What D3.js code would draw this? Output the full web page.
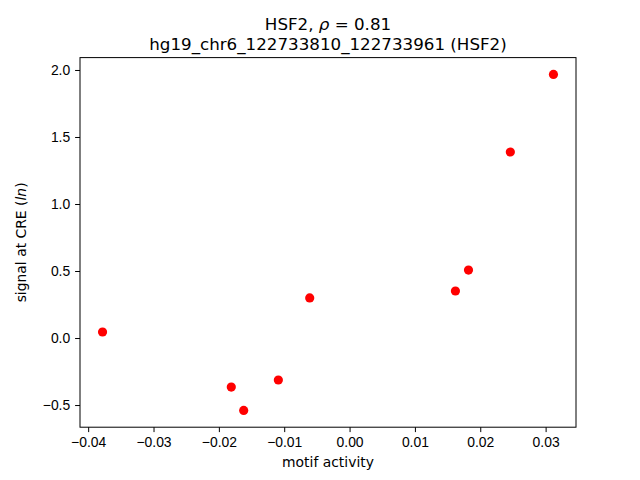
<!DOCTYPE html>
<html lang="en">
<head>
<meta charset="UTF-8">
<title>HSF2</title>
<script src="https://cdn.jsdelivr.net/npm/d3@7"></script>
<style>
	body { margin: 0; background: #fff; }
	svg { font-family: "DejaVu Sans", sans-serif; }
	.axis path, .axis line { stroke: #000; stroke-width: 1px; }
	.axis text { font-size: 13.9px; fill: #000; }
	.title { font-size: 16.7px; fill: #000; }
	.label { font-size: 13.9px; fill: #000; }
</style>
</head>
<body>
<script>

var motifActivity = [-0.0378, -0.0181, -0.0162, -0.0109, -0.0061, 0.0162, 0.0182, 0.0246, 0.0312];
var signalCRE = [0.045, -0.366, -0.540, -0.313, 0.299, 0.351, 0.507, 1.388, 1.967];
var xTicks = [-0.04, -0.03, -0.02, -0.01, 0.00, 0.01, 0.02, 0.03];
var yTicks = [-0.5, 0.0, 0.5, 1.0, 1.5, 2.0];

var W = 640, H = 480;
var margin = {top: 57.6, right: 64, bottom: 52.8, left: 80};
var width = W - margin.left - margin.right,
		height = H - margin.top - margin.bottom;

var svg = d3.select('body').append('svg')
	.attr('width', W)
	.attr('height', H);

var g = svg.append('g')
	.attr('transform', 'translate(' + margin.left + ',' + margin.top + ')');

// matplotlib style 5% margins
function padded(vals) {
	var ext = d3.extent(vals);
	var m = (ext[1] - ext[0]) * 0.05;
	return [ext[0] - m, ext[1] + m];
}

var x = d3.scaleLinear().domain(padded(motifActivity)).range([0, width]);
var y = d3.scaleLinear().domain(padded(signalCRE)).range([height, 0]);

g.append('g')
	.attr('class', 'axis')
	.attr('transform', 'translate(0,' + height + ')')
	.call(d3.axisBottom(x).tickValues(xTicks).tickSize(4.9).tickPadding(4.9)
		.tickFormat(function(d) { return d3.format('.2f')(d).replace('-', '\u2212'); }))
	.call(function(a) { a.select('.domain').remove(); });

g.append('g')
	.attr('class', 'axis')
	.call(d3.axisLeft(y).tickValues(yTicks).tickSize(4.9).tickPadding(4.9)
		.tickFormat(function(d) { return d3.format('.1f')(d).replace('-', '\u2212'); }))
	.call(function(a) { a.select('.domain').remove(); });

g.append('rect')
	.attr('width', width)
	.attr('height', height)
	.attr('fill', 'none')
	.attr('stroke', '#000')
	.attr('stroke-width', 1);

g.selectAll('.dot')
	.data(motifActivity)
	.enter()
	.append('circle')
	.attr('class', 'dot')
	.attr('cx', function(d) { return x(d); })
	.attr('cy', function(d, i) { return y(signalCRE[i]); })
	.attr('r', 4.6)
	.style('fill', '#ff0000');

var t1 = svg.append('text')
	.attr('class', 'title')
	.attr('x', margin.left + width / 2)
	.attr('y', 30)
	.attr('text-anchor', 'middle');
t1.append('tspan').text('HSF2, ');
t1.append('tspan').style('font-style', 'italic').text('\u03c1');
t1.append('tspan').text(' = 0.81');

svg.append('text')
	.attr('class', 'title')
	.attr('x', margin.left + width / 2)
	.attr('y', 50)
	.attr('text-anchor', 'middle')
	.text('hg19_chr6_122733810_122733961 (HSF2)');

svg.append('text')
	.attr('class', 'label')
	.attr('x', margin.left + width / 2)
	.attr('y', 467)
	.attr('text-anchor', 'middle')
	.text('motif activity');

var yl = svg.append('text')
	.attr('class', 'label')
	.attr('transform', 'translate(26,' + (margin.top + height / 2) + ') rotate(-90)')
	.attr('text-anchor', 'middle');
yl.append('tspan').text('signal at CRE (');
yl.append('tspan').style('font-style', 'italic').text('ln');
yl.append('tspan').text(')');

</script>
</body>
</html>
